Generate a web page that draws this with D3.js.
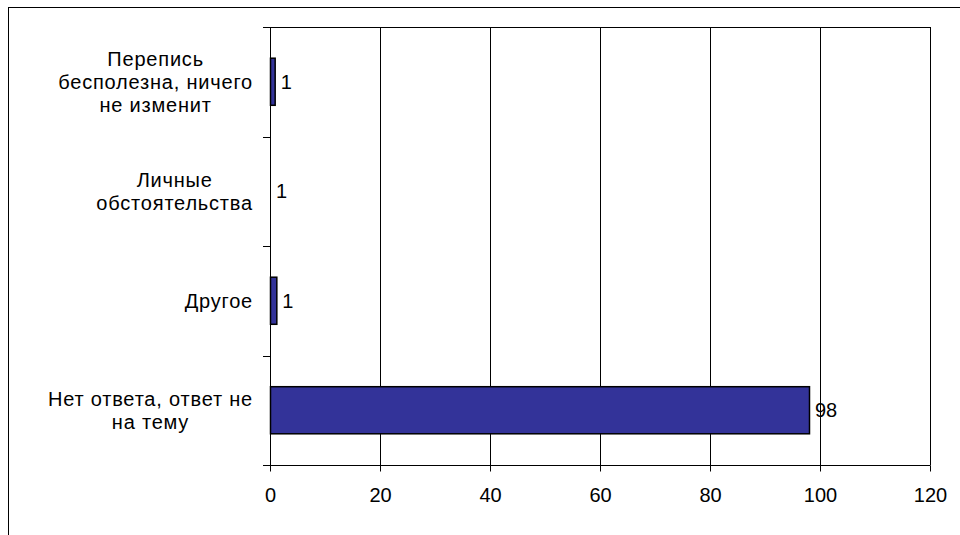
<!DOCTYPE html>
<html><head><meta charset="utf-8">
<script src="https://cdn.jsdelivr.net/npm/d3@7"></script>
<style>body{margin:0;background:#fff}svg{display:block}text{font-family:"Liberation Sans",Arial,sans-serif;fill:#000}</style>
</head><body>
<svg id="c" width="960" height="535"></svg>
<script>
const categories = [
  ["Перепись", "бесполезна, ничего", "не изменит"],
  ["Личные", "обстоятельства"],
  ["Другое"],
  ["Нет ответа, ответ не", "на тему"]
];
const values = [0.85, 0, 1.15, 98];
const valueLabels = ["1", "1", "1", "98"];
const xTicks = [0, 20, 40, 60, 80, 100, 120];

const svg = d3.select("#c");
const m = {left: 270, top: 27, right: 930, bottom: 465};
const x = d3.scaleLinear().domain([0, 120]).range([m.left, m.right]);
const y = d3.scaleBand().domain(d3.range(categories.length)).range([m.top, m.bottom]).paddingInner(0.57).paddingOuter(0.285);

// outer frame
svg.append("rect").attr("x", 8.5).attr("y", 7.5).attr("width", 1000).attr("height", 1000)
  .attr("fill", "none").attr("stroke", "#000").attr("stroke-width", 1);

// gridlines
svg.append("g").selectAll("line").data(xTicks.filter(d => d > 0)).join("line")
  .attr("x1", d => Math.round(x(d)) + 0.5).attr("x2", d => Math.round(x(d)) + 0.5)
  .attr("y1", m.top).attr("y2", m.bottom).attr("stroke", "#000");
// top border
svg.append("line").attr("x1", m.left).attr("x2", m.right + 0.5).attr("y1", m.top + 0.5).attr("y2", m.top + 0.5).attr("stroke", "#000");

// x axis
const xAxis = d3.axisBottom(x).tickValues(xTicks).tickSize(6).tickPadding(16);
const gx = svg.append("g").attr("transform", `translate(0,${m.bottom + 0.5})`).call(xAxis);
gx.select(".domain").attr("d", `M${m.left - 7},0H${m.right + 0.5}`);
gx.selectAll(".tick line").attr("stroke", "#000");
gx.selectAll("text").attr("font-size", 20).attr("font-family", "Liberation Sans, Arial, sans-serif");

// y axis
const bandTicks = d3.range(categories.length + 1).map(i => m.top + i * (m.bottom - m.top) / categories.length);
svg.append("line").attr("x1", m.left + 0.5).attr("x2", m.left + 0.5).attr("y1", m.top).attr("y2", m.bottom + 6).attr("stroke", "#000");
svg.append("g").selectAll("line").data(bandTicks).join("line")
  .attr("x1", m.left - 7).attr("x2", m.left).attr("y1", d => Math.round(d) + 0.5).attr("y2", d => Math.round(d) + 0.5).attr("stroke", "#000");

// bars
svg.append("g").selectAll("rect").data(values.map((v, i) => ({v, i})).filter(d => d.v > 0)).join("rect")
  .attr("x", x(0) + 0.5).attr("y", d => y(d.i))
  .attr("width", d => x(d.v) - x(0)).attr("height", y.bandwidth())
  .attr("fill", "#333399").attr("stroke", "#000").attr("stroke-width", 1.5);

// value labels
svg.append("g").selectAll("text").data(values).join("text")
  .attr("x", d => x(d) + 6).attr("y", (d, i) => y(i) + y.bandwidth() / 2)
  .attr("dy", "0.35em").attr("font-size", 20).text((d, i) => valueLabels[i]);

// category labels
const lh = 23;
categories.forEach((lines, i) => {
  const cy = y(i) + y.bandwidth() / 2;
  const g = svg.append("g");
  const t = g.append("text").attr("font-size", 20).attr("text-anchor", "middle").attr("letter-spacing", 0.8);
  lines.forEach((ln, j) => {
    t.append("tspan").attr("x", 0).attr("y", cy + (j - (lines.length - 1) / 2) * lh).attr("dy", "0.35em").text(ln);
  });
  const w = t.node().getBBox().width;
  g.attr("transform", `translate(${253 - w / 2},0)`);
});
</script>
</body></html>
